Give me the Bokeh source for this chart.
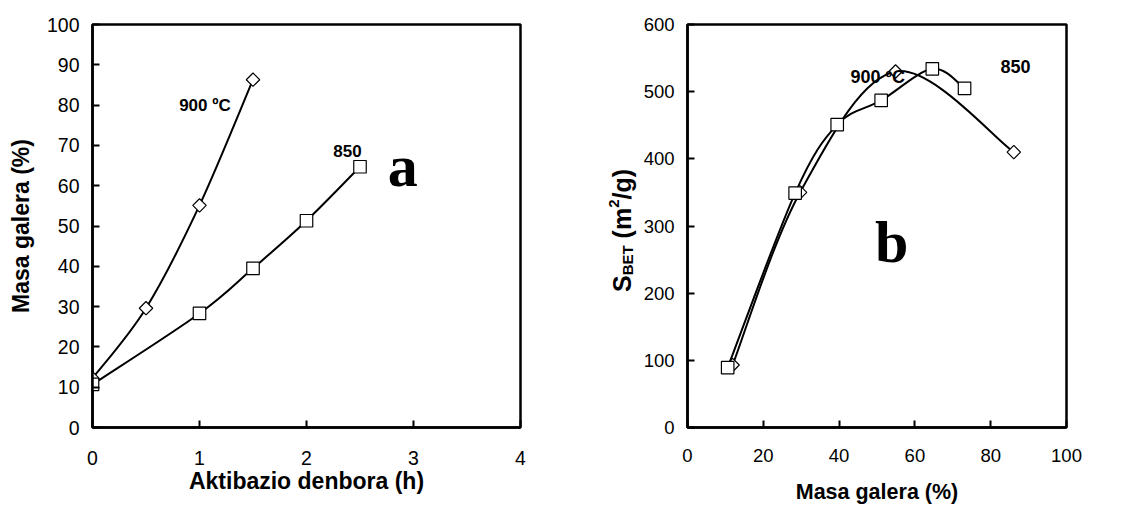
import numpy as np
from bokeh.plotting import figure
from bokeh.layouts import row
from bokeh.models import Range1d, Label, FixedTicker
from bokeh.embed import file_html
from bokeh.resources import INLINE

# (a) mass loss against activation time
time_900 = [0.0, 0.5, 1.0, 1.5]
loss_900 = [12.2, 29.6, 55.1, 86.3]
time_850 = [0.0, 1.0, 1.5, 2.0, 2.5]
loss_850 = [10.7, 28.3, 39.5, 51.3, 64.7]

# (b) BET surface area against mass loss
bet_loss_900 = [11.9, 29.7, 54.9, 86.1]
sbet_900 = [93, 350, 530, 410]
bet_loss_850 = [10.6, 28.4, 39.5, 51.1, 64.6, 73.1]
sbet_850 = [89, 349, 451, 487, 534, 505]

ticks_time = [0, 1, 2, 3, 4]
ticks_loss_a = list(range(0, 101, 10))
ticks_loss_b = [0, 20, 40, 60, 80, 100]
ticks_sbet = list(range(0, 601, 100))

FONT = "Liberation Sans"
SERIF = "Liberation Serif"
BASE_SHIFT = 0.36  # em offset of the SVG alphabetic baseline, compensated below


def smooth_segments(xs, ys):
    """Cubic Bezier pieces of a Catmull-Rom style smoothed line through the points."""
    x = np.asarray(xs, float)
    y = np.asarray(ys, float)
    n = len(x)
    xp = np.concatenate([[x[0]], x, [x[-1]]])
    yp = np.concatenate([[y[0]], y, [y[-1]]])
    return dict(
        x0=x[:-1], y0=y[:-1], x1=x[1:], y1=y[1:],
        cx0=xp[1:n] + (xp[2:n + 1] - xp[0:n - 1]) / 6.0,
        cy0=yp[1:n] + (yp[2:n + 1] - yp[0:n - 1]) / 6.0,
        cx1=xp[2:n + 1] - (xp[3:n + 2] - xp[1:n]) / 6.0,
        cy1=yp[2:n + 1] - (yp[3:n + 2] - yp[1:n]) / 6.0,
    )


def make_panel(width, xr, yr, xt, yt, borders, xlabel, ylabel, tick_size, title_size,
               x_standoff, x_title_standoff):
    left, right, top, bottom = borders
    p = figure(width=width, height=508, x_range=Range1d(*xr), y_range=Range1d(*yr),
               output_backend="svg", toolbar_location=None,
               min_border_left=left, min_border_right=right,
               min_border_top=top, min_border_bottom=bottom)
    p.xgrid.visible = False
    p.ygrid.visible = False
    p.outline_line_color = "black"
    p.outline_line_width = 2.5
    p.outline_line_alpha = 1.0
    for ax in (p.xaxis[0], p.yaxis[0]):
        ax.axis_line_width = 2.5
        ax.axis_line_color = "black"
        ax.major_tick_in = 7
        ax.major_tick_out = 0
        ax.major_tick_line_width = 2
        ax.major_tick_line_color = "black"
        ax.minor_tick_line_color = None
        ax.major_label_text_font = FONT
        ax.major_label_text_font_size = tick_size
        ax.major_label_text_color = "black"
        ax.axis_label_text_font = FONT
        ax.axis_label_text_font_style = "bold"
        ax.axis_label_text_font_size = title_size
        ax.axis_label_text_color = "black"
    p.xaxis.ticker = FixedTicker(ticks=xt)
    p.yaxis.ticker = FixedTicker(ticks=yt)
    p.xaxis.major_label_standoff = x_standoff
    p.yaxis.major_label_standoff = 13
    p.xaxis.axis_label = xlabel
    p.yaxis.axis_label = ylabel
    p.xaxis.axis_label_standoff = x_title_standoff
    p.yaxis.axis_label_standoff = 10 if ylabel else 0
    return p


def draw_series(p, xs, ys, marker):
    p.bezier(**smooth_segments(xs, ys), line_color="black", line_width=2)
    if marker == "diamond":
        p.scatter(xs, ys, marker="square", angle=np.pi / 4, size=9.5,
                  fill_color="white", line_color="black", line_width=1.2)
    else:
        p.scatter(xs, ys, marker="square", size=12.5,
                  fill_color="white", line_color="black", line_width=1.2)


def tag(p, x, y, text, size=17, font=FONT, px_per_y=1.0):
    # y is the intended baseline in data units
    p.add_layout(Label(x=x, y=y + BASE_SHIFT * size / px_per_y, text=text,
                       text_font=font, text_font_size=f"{size}px",
                       text_font_style="bold", text_color="black",
                       text_align="left", text_baseline="alphabetic"))


# ---- panel a ----
pa = make_panel(600, (0, 4), (0, 100), ticks_time, ticks_loss_a,
                (92, 80, 21, 81), "Aktibazio denbora (h)", "Masa galera (%)",
                "19.5px", "23px", 23, 0)
draw_series(pa, time_900, loss_900, "diamond")
draw_series(pa, time_850, loss_850, "square")
ya = 406.0 / 100.0
tag(pa, 0.81, 78.4, "900 ºC", px_per_y=ya)
tag(pa, 2.25, 67.2, "850", px_per_y=ya)
tag(pa, 2.76, 59.6, "a", size=60, font=SERIF, px_per_y=ya)

# ---- y title of panel b, S_BET (m²/g), in its own narrow strip ----
# strip coordinates: x = px from the strip's left edge, y = px from the page top
strip = figure(width=40, height=508, x_range=Range1d(0, 40), y_range=Range1d(427, 24),
               x_axis_type=None, y_axis_type=None, output_backend="svg",
               toolbar_location=None, min_border_left=0, min_border_right=0,
               min_border_top=24, min_border_bottom=81, outline_line_color=None)
strip.xgrid.visible = False
strip.ygrid.visible = False
ARIAL_BOLD = {"S": .667, "B": .722, "E": .667, "T": .611, " ": .278, "(": .333,
              "m": .889, "2": .556, "/": .278, "g": .611, ")": .333}
# text, font size, baseline position, gap before (em)
pieces = [("S", 25, 30.7, 0.0), ("BET", 15, 32.0, 0.0), ("(m", 25, 30.7, 0.278),
          ("2", 15, 18.4, 0.0), ("/g)", 25, 30.7, 0.0)]
along = 291.5  # where the upward-reading title starts
for text, size, base, gap in pieces:
    along -= gap * size
    strip.add_layout(Label(x=base - BASE_SHIFT * size, y=along, text=text,
                           angle=np.pi / 2, text_font=FONT,
                           text_font_size=f"{size}px", text_font_style="bold",
                           text_color="black", text_align="left",
                           text_baseline="alphabetic"))
    along -= sum(ARIAL_BOLD[c] for c in text) * size

# ---- panel b ----
pb = make_panel(505, (0, 100), (0, 600), ticks_loss_b, ticks_sbet,
                (47, 79, 24, 81), "Masa galera (%)", None,
                "18.5px", "21.5px", 21, 15)
draw_series(pb, bet_loss_900, sbet_900, "diamond")
draw_series(pb, bet_loss_850, sbet_850, "square")
yb = 403.0 / 600.0
tag(pb, 43.0, 512.5, "900 ºC", size=18, px_per_y=yb)
tag(pb, 82.6, 528.5, "850", size=18, px_per_y=yb)
tag(pb, 49.5, 243.6, "b", size=60, font=SERIF, px_per_y=yb)

layout = row(pa, strip, pb)
open("out.html", "w").write(file_html(layout, INLINE))
